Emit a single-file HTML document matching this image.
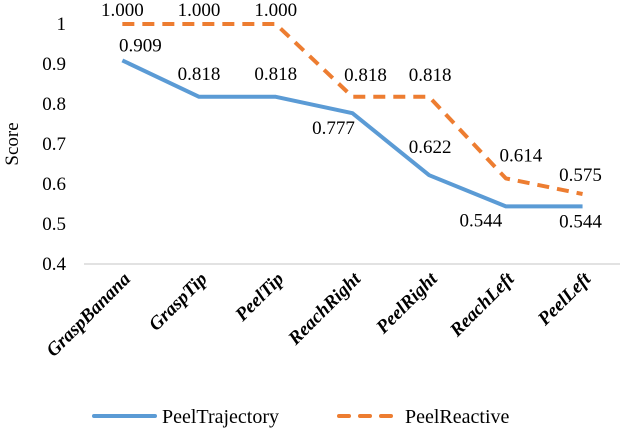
<!DOCTYPE html>
<html><head><meta charset="utf-8"><style>
html,body{margin:0;padding:0;background:#fff;}
svg{display:block;}
svg text{font-family:"Liberation Serif","Times New Roman","DejaVu Serif",serif;}
</style></head><body>
<svg id="chart" width="622" height="428" viewBox="0 0 622 428"></svg>
<script>
const categories=["GraspBanana","GraspTip","PeelTip","ReachRight","PeelRight","ReachLeft","PeelLeft"];
const trajectory=[0.909,0.818,0.818,0.777,0.622,0.544,0.544];
const reactive=[1.0,1.0,1.0,0.818,0.818,0.614,0.575];
const yTicks=[0.4,0.5,0.6,0.7,0.8,0.9,1];
const yTickLabels=["0.4","0.5","0.6","0.7","0.8","0.9","1"];
// label offsets (style, not data): dx, dy of text center from point
const trajOff=[[18,-15],[0,-23],[0,-23],[-19,15],[1,-28],[-25,14],[-2,15]];
const reacOff=[[0,-14],[0,-14],[0,-14],[13,-22],[1,-22],[15,-23],[-2,-19]];

const svg=document.getElementById('chart');
const NS='http://www.w3.org/2000/svg';
const x0=84, step=76.7;
function xPos(i){return x0+step*(i+0.5);}
function yPos(v){return 24+(1-v)*400;}
function mk(tag,attrs,parent){const e=document.createElementNS(NS,tag);for(const k in attrs)e.setAttribute(k,attrs[k]);(parent||svg).appendChild(e);return e;}

yTicks.forEach((t,i)=>{
  const e=mk('text',{x:66,y:yPos(t)+6,'text-anchor':'end','font-size':19,fill:'#000'});
  
  
  e.textContent=yTickLabels[i];
});
const yt=mk('text',{x:0,y:0,transform:'translate(18,144) rotate(-90)','text-anchor':'middle','font-size':19,fill:'#000'});


yt.textContent='Score';

const ax=mk('line',{x1:x0,x2:620,y1:yPos(0.4),y2:yPos(0.4),stroke:'#d9d9d9','stroke-width':1.5});



categories.forEach((c,i)=>{
  const e=mk('text',{x:0,y:0,transform:`translate(${xPos(i)+9},${yPos(0.4)+16}) rotate(-45)`,'text-anchor':'end','font-size':19,'font-style':'italic','font-weight':'bold',fill:'#000'});
  
  
  e.textContent=c;
});

function series(vals,color,dash,name,off){
  const pts=vals.map((v,i)=>xPos(i)+','+yPos(v)).join(' ');
  const attrs={points:pts,fill:'none',stroke:color,'stroke-width':4,'stroke-linejoin':'round'};
  if(dash){attrs['stroke-dasharray']=dash;}
  const p=mk('polyline',attrs);
  
  
  vals.forEach((v,i)=>{
    const t=mk('text',{x:xPos(i)+off[i][0],y:yPos(v)+off[i][1]+6,'text-anchor':'middle','font-size':19,fill:'#000'});
    
    
    t.textContent=v.toFixed(3);
  });
}
series(trajectory,'#5b9bd5',null,'peel-trajectory',trajOff);
series(reactive,'#ed7d31','12,8','peel-reactive',reacOff);

const g=mk('g',{});


const l1=mk('line',{x1:94,x2:155,y1:416,y2:416,stroke:'#5b9bd5','stroke-width':4,'stroke-linecap':'round'},g);


const t1=mk('text',{x:162,y:423,'font-size':20,fill:'#000'},g);


t1.textContent='PeelTrajectory';
const l2=mk('line',{x1:339,x2:392,y1:416,y2:416,stroke:'#ed7d31','stroke-width':4,'stroke-dasharray':'10,11','stroke-linecap':'round'},g);


const t2=mk('text',{x:405,y:423,'font-size':20,fill:'#000'},g);


t2.textContent='PeelReactive';
</script>
</body></html>
